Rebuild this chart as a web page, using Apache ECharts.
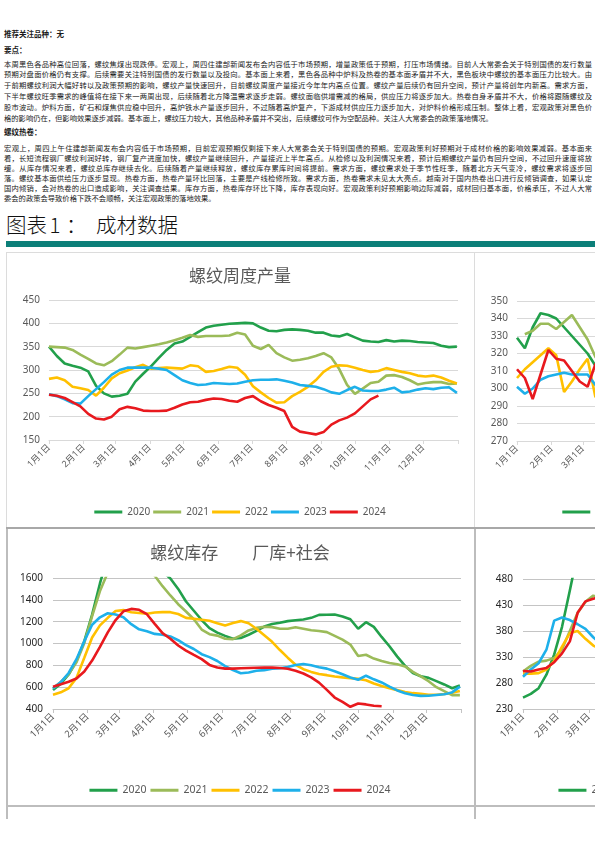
<!DOCTYPE html>
<html><head><meta charset="utf-8">
<script src="https://cdn.jsdelivr.net/npm/echarts@6/dist/echarts.min.js"></script>
<style>
html,body{margin:0;padding:0;background:#fff;}
body{width:595px;height:842px;position:relative;overflow:hidden;font-family:"Noto Sans CJK SC",sans-serif;color:#1a1a1a;}
.h{position:absolute;left:4px;font-size:7.5px;font-weight:bold;line-height:10px;white-space:nowrap;}
.p{position:absolute;left:4px;width:588px;font-size:7.3px;}
.p div{text-align:justify;text-align-last:justify;}
.p div.last{text-align-last:left;}
.p1 div{height:10.8px;line-height:10.8px;}
.p2 div{height:10px;line-height:10px;}
.ttl{position:absolute;left:0;top:212px;width:200px;height:25px;font-size:20.5px;line-height:25px;font-weight:300;white-space:nowrap;color:#111;}
.ttl span{position:absolute;top:0;}
.bar{position:absolute;left:6px;top:241px;width:589px;height:5.5px;background:#0c7f79;}
.ln{position:absolute;}
.ch{position:absolute;width:468px;height:276px;}
</style></head>
<body>
<div class="h" style="top:29px">推荐关注品种：无</div>
<div class="h" style="top:45px">要点：</div>
<div class="p p1" style="top:58.6px">
<div>本周黑色各品种高位回落，螺纹焦煤出现跌停。宏观上，周四住建部新闻发布会内容低于市场预期，增量政策低于预期，打压市场情绪。目前人大常委会关于特别国债的发行数量</div>
<div>预期对盘面价格仍有支撑。后续需要关注特别国债的发行数量以及投向。基本面上来看，黑色各品种中炉料及热卷的基本面矛盾并不大，黑色板块中螺纹的基本面压力比较大。由</div>
<div>于前期螺纹利润大幅好转以及政策预期的影响，螺纹产量快速回升，目前螺纹周度产量接近今年年内高点位置。螺纹产量后续仍有回升空间，预计产量将创年内新高。需求方面，</div>
<div>下半年螺纹旺季需求的峰值将在接下来一两周出现，后续随着北方降温需求逐步走弱。螺纹面临供增需减的格局，供应压力将逐步加大。热卷自身矛盾并不大，价格将跟随螺纹及</div>
<div>股市波动。炉料方面，矿石和煤焦供应稳中回升，高炉铁水产量逐步回升，不过随着高炉复产，下游成材供应压力逐步加大，对炉料价格形成压制。整体上看，宏观政策对黑色价</div>
<div class="last">格的影响仍在，但影响效果逐步减弱。基本面上，螺纹压力较大，其他品种矛盾并不突出，后续螺纹可作为空配品种。关注人大常委会的政策落地情况。</div>
</div>
<div class="h" style="top:127px">螺纹热卷：</div>
<div class="p p2" style="top:143px">
<div>宏观上，周四上午住建部新闻发布会内容低于市场预期，目前宏观预期仅剩接下来人大常委会关于特别国债的预期。宏观政策利好预期对于成材价格的影响效果减弱。基本面来</div>
<div>看，长短流程钢厂螺纹利润好转，钢厂复产进度加快，螺纹产量继续回升，产量接近上半年高点。从检修以及利润情况来看，预计后期螺纹产量仍有回升空间，不过回升速度将放</div>
<div>缓。从库存情况来看，螺纹总库存继续去化。后续随着产量继续释放，螺纹库存累库时间将提前。需求方面，螺纹需求处于季节性旺季，随着北方天气变冷，螺纹需求将逐步回</div>
<div>落。螺纹基本面供给压力逐步显现。热卷方面，热卷产量环比回落，主要是产线检修所致。需求方面，热卷需求未见太大亮点。越南对于国内热卷出口进行反倾销调查，如果认定</div>
<div>国内倾销，会对热卷的出口造成影响，关注调查结果。库存方面，热卷库存环比下降，库存表现向好。宏观政策利好预期影响边际减弱，成材回归基本面，价格承压，不过人大常</div>
<div class="last">委会的政策会导致价格下跌不会顺畅，关注宏观政策的落地效果。</div>
</div>
<div class="ttl"><span style="left:6px">图表</span><span style="left:49.5px">1</span><span style="left:66px">：</span><span style="left:96px">成材数据</span></div>
<div class="bar"></div>

<div id="c1" class="ch" style="left:6px;top:252px"></div>
<div id="c2" class="ch" style="left:474px;top:252px"></div>
<div id="c3" class="ch" style="left:6px;top:530px"></div>
<div id="c4" class="ch" style="left:475px;top:530px"></div>

<!-- table borders -->
<div class="ln" style="left:6px;top:252px;width:589px;height:1px;background:#dcdcdc"></div>
<div class="ln" style="left:6px;top:252px;width:1px;height:276px;background:#dcdcdc"></div>
<div class="ln" style="left:474px;top:252px;width:1px;height:276px;background:#dcdcdc"></div>
<div class="ln" style="left:6px;top:527px;width:589px;height:2px;background:#a8a8a8"></div>
<div class="ln" style="left:6px;top:529px;width:2px;height:290px;background:#bdbdbd"></div>
<div class="ln" style="left:474px;top:529px;width:2px;height:290px;background:#bdbdbd"></div>
<div class="ln" style="left:6px;top:805px;width:589px;height:2px;background:#bdbdbd"></div>

<script>
const years = ['2020', '2021', '2022', '2023', '2024'];
const colors = ['#22a04b', '#9bbb59', '#ffc000', '#1eb0ea', '#e8191e'];
const weekDays = [0, 7, 14, 21, 28, 35, 42, 49, 56, 63, 70, 77, 84, 91, 98, 105, 112, 119, 126, 133, 140, 147, 154, 161, 168, 175, 182, 189, 196, 203, 210, 217, 224, 231, 238, 245, 252, 259, 266, 273, 280, 287, 294, 301, 308, 315, 322, 329, 336, 343, 350, 357, 364];
const monthStartDays = [0, 31, 59, 90, 120, 151, 181, 212, 243, 273, 304, 334];
const yearEndDay = 365;
const monthLabels = ['1月1日', '2月1日', '3月1日', '4月1日', '5月1日', '6月1日', '7月1日', '8月1日', '9月1日', '10月1日', '11月1日', '12月1日'];

// 螺纹周度产量
const rebarOutput2020 = [350,330,314,309,305,297,266,250,243,245,249,275,292,308,326,343,357,361,371,381,391,395,397,399,400,401,400,391,384,383,386,387,386,384,380,380,374,372,377,370,363,361,360,364,361,363,362,360,359,358,352,349,350];
const rebarOutput2021 = [350,349,348,343,333,324,314,310,319,333,348,346,349,352,355,359,364,369,375,371,373,373,373,374,380,376,352,345,354,336,327,320,322,325,330,336,327,302,268,249,260,272,275,288,289,285,278,269,272,274,274,270,271];
const rebarOutput2022 = [281,284,278,264,261,257,245,262,282,293,299,306,311,303,304,305,304,303,310,308,296,298,302,307,305,290,265,252,240,230,231,244,253,264,278,296,307,310,309,305,300,296,298,304,300,296,293,288,286,288,284,277,271];
const rebarOutput2023 = [248,244,237,229,228,244,259,274,290,300,305,305,305,305,303,300,289,278,272,268,269,272,271,270,271,275,278,279,279,280,277,273,268,266,264,259,252,249,257,264,256,255,255,258,262,252,254,258,261,259,262,263,251];
const rebarOutput2024 = [247,245,240,231,222,206,196,194,200,216,221,218,213,212,212,213,219,226,231,232,236,239,238,234,232,240,244,233,225,219,212,178,168,165,162,167,183,192,198,207,222,237,245];

// 热卷周度产量（右侧，部分可见）
const hrcOutput2020 = [329,323,335,343,342,340,335,330,325,320,313,308];
const hrcOutput2021 = [null,331,333,337,337,334,338,342,335,328,318,312];
const hrcOutput2022 = [306,311,315,319,323,319,298,304,311,317,295,300];
const hrcOutput2023 = [301,297,300,305,307,308,309,308,308,308,302,300];
const hrcOutput2024 = [311,306,294,308,322,317,316,310,304,301,314,317];

// 螺纹库存 厂库+社会
const rebarStock2020 = [573,632,716,840,1021,1265,1550,1800,1950,2000,1950,1850,1750,1700,1660,1595,1500,1385,1300,1215,1140,1100,1070,1044,1050,1080,1115,1155,1178,1190,1205,1213,1220,1235,1262,1263,1265,1248,1222,1135,1195,1152,1060,975,880,795,730,700,685,655,625,590,615];
const rebarStock2021 = [590,648,720,827,1005,1250,1480,1650,1780,1850,1830,1780,1700,1620,1525,1440,1360,1293,1222,1128,1085,1072,1044,1040,1074,1120,1143,1153,1150,1135,1135,1148,1135,1122,1115,1104,1070,1035,990,885,897,862,840,822,810,790,740,698,655,600,563,527,527];
const rebarStock2022 = [530,553,590,685,869,1055,1166,1235,1298,1306,1287,1280,1273,1284,1287,1287,1270,1235,1227,1218,1208,1186,1165,1187,1205,1185,1135,1075,1015,940,870,805,765,740,720,710,698,690,683,676,664,634,610,590,573,555,545,540,530,530,538,548,565];
const rebarStock2023 = [588,647,730,856,1020,1172,1240,1277,1265,1240,1177,1130,1112,1088,1080,1065,1030,985,950,902,875,840,793,757,728,735,750,756,768,774,785,803,812,800,783,770,745,718,688,668,705,672,643,605,570,545,528,520,521,528,535,552,605];
const rebarStock2024 = [603,626,650,680,743,844,970,1102,1215,1295,1317,1309,1268,1180,1095,1044,982,935,895,857,804,780,770,770,773,776,778,779,779,775,768,750,725,690,642,575,505,465,420,450,442,430,425];

// 右下（部分可见）
const hrcStock2020 = [252,259,270,296,335,388,458,530];
const hrcStock2021 = [302,313,321,323,328,345,380,415,436,448,444];
const hrcStock2022 = [298,298,299,306,322,350,376,380,365,352,345];
const hrcStock2023 = [292,306,318,344,400,406,401,393,384,368,355];
const hrcStock2024 = [303,302,306,309,320,337,360,415,437,442,446];

const FONT = '"Noto Sans","Noto Sans CJK SC",sans-serif';

function build(id, o) {
  const chart = echarts.init(document.getElementById(id), null, {renderer: 'canvas'});
  chart.setOption({
    animation: false,
    title: {
      show: !!o.title, text: o.title || '', left: 'center', top: o.titleTop || 10,
      textStyle: {fontFamily: '"Noto Sans CJK SC",sans-serif', fontSize: 17, fontWeight: 'normal', color: '#595959'}
    },
    legend: {
      data: years, left: 'center', top: o.legendTop, icon: 'rect',
      itemWidth: 28, itemHeight: 3, itemGap: o.legendGap,
      textStyle: {fontFamily: FONT, fontSize: o.legendFont, color: '#595959'}
    },
    grid: o.grid,
    xAxis: {
      type: 'value', min: 0, max: yearEndDay,
      splitLine: {show: false},
      axisLine: {show: true, lineStyle: {color: o.gridColor}},
      axisTick: {show: true, customValues: monthStartDays.concat([yearEndDay]), length: 4, lineStyle: {color: o.gridColor}},
      axisLabel: {
        customValues: monthStartDays, rotate: 45, margin: 6,
        fontFamily: FONT, fontSize: o.xFont, color: '#595959',
        formatter: function (v) { const k = monthStartDays.indexOf(v); return k >= 0 ? monthLabels[k] : ''; }
      }
    },
    yAxis: {
      type: 'value', min: o.yMin, max: o.yMax, interval: o.yStep,
      axisLine: {show: false}, axisTick: {show: false},
      splitLine: {lineStyle: {color: o.gridColor, width: 1}},
      axisLabel: {fontFamily: FONT, fontSize: 10, color: o.yColor, margin: o.yMargin,
        formatter: function (v) { return String(v); }}
    },
    series: o.data.map(function (vals, k) {
      return {
        name: years[k], type: 'line', symbol: 'none', showSymbol: false, clip: true,
        data: vals.map(function (v, i) { return [weekDays[i], v]; }),
        lineStyle: {width: 2.6, color: colors[k]}, itemStyle: {color: colors[k]}
      };
    })
  });
}

build('c1', {
  title: '螺纹周度产量', titleTop: 10,
  grid: {left: 43, right: 16, top: 48, bottom: 88},
  yMin: 150, yMax: 450, yStep: 50, yColor: '#595959', yMargin: 9,
  gridColor: '#d9d9d9', xFont: 9, legendTop: 250, legendGap: 3, legendFont: 10,
  data: [rebarOutput2020, rebarOutput2021, rebarOutput2022, rebarOutput2023, rebarOutput2024]
});
build('c2', {
  grid: {left: 43, right: 16, top: 49, bottom: 87},
  yMin: 270, yMax: 350, yStep: 10, yColor: '#595959', yMargin: 9,
  gridColor: '#d9d9d9', xFont: 9, legendTop: 250, legendGap: 3, legendFont: 10,
  data: [hrcOutput2020, hrcOutput2021, hrcOutput2022, hrcOutput2023, hrcOutput2024]
});
build('c3', {
  title: '螺纹库存　　厂库+社会', titleTop: 9,
  grid: {left: 47, right: 13, top: 48, bottom: 97},
  yMin: 400, yMax: 1600, yStep: 200, yColor: '#262626', yMargin: 10,
  gridColor: '#c4c4c4', xFont: 9.5, legendTop: 250, legendGap: 4, legendFont: 10.5,
  data: [rebarStock2020, rebarStock2021, rebarStock2022, rebarStock2023, rebarStock2024]
});
build('c4', {
  grid: {left: 48, right: 13, top: 49, bottom: 97},
  yMin: 230, yMax: 480, yStep: 50, yColor: '#262626', yMargin: 10,
  gridColor: '#c4c4c4', xFont: 9.5, legendTop: 250, legendGap: 4, legendFont: 10.5,
  data: [hrcStock2020, hrcStock2021, hrcStock2022, hrcStock2023, hrcStock2024]
});
</script>
</body></html>
